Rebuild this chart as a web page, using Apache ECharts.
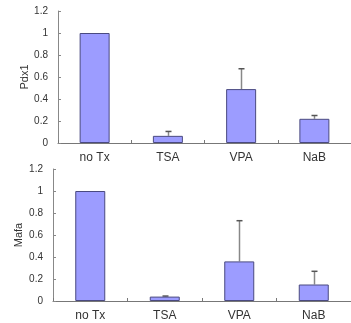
<!DOCTYPE html>
<html><head><meta charset="utf-8">
<script src="https://cdn.jsdelivr.net/npm/echarts@6/dist/echarts.min.js"></script>
<style>html,body{margin:0;padding:0;background:#fff}#c{width:351px;height:323px}</style>
</head><body><div id="c"></div>
<script>
const categories = ['no Tx', 'TSA', 'VPA', 'NaB'];
const pdx1Values = [1.0, 0.065, 0.49, 0.22];
const pdx1Errors = [0, 0.04, 0.185, 0.03];
const mafaValues = [1.0, 0.04, 0.36, 0.15];
const mafaErrors = [0, 0.005, 0.37, 0.12];
const yTicks = [0, 0.2, 0.4, 0.6, 0.8, 1, 1.2];

const font = 'Liberation Sans, Arial, sans-serif';
function yAxis(idx, name, gap) {
  return {
    type: 'value', gridIndex: idx, min: 0, max: 1.2, interval: 0.2,
    name: name, nameLocation: 'middle', nameGap: gap, nameRotate: 90,
    nameMoveOverlap: false,
    nameTextStyle: { fontFamily: font, fontSize: 11, color: '#333' },
    axisLine: { show: true, lineStyle: { color: '#888', width: 1 } },
    axisTick: { show: true, inside: true, length: 3, lineStyle: { color: '#888' } },
    axisLabel: { fontFamily: font, fontSize: 10, color: '#333', margin: 10,
      formatter: v => String(+v.toFixed(1)) },
    splitLine: { show: false }
  };
}
function xAxis(idx) {
  return {
    type: 'category', gridIndex: idx, data: categories,
    axisLine: { show: true, lineStyle: { color: '#777', width: 1 } },
    axisTick: { show: true, inside: true, length: 3, alignWithLabel: false, lineStyle: { color: '#777' } },
    axisLabel: { fontFamily: font, fontSize: 12, color: '#333', margin: 9 },
    splitLine: { show: false }
  };
}
function barSeries(idx, values) {
  return {
    type: 'bar', xAxisIndex: idx, yAxisIndex: idx, data: values, barWidth: 30,
    itemStyle: { color: '#9c9cff', borderColor: '#4a4a80', borderWidth: 1 },
    z: 2
  };
}
function errSeries(idx, values, errs) {
  return {
    type: 'custom', xAxisIndex: idx, yAxisIndex: idx, z: 1,
    data: values.map((v, i) => [i, v, v + errs[i]]),
    renderItem: function (params, api) {
      if (api.value(2) - api.value(1) <= 0) return;
      const base = api.coord([api.value(0), api.value(1)]);
      const top = api.coord([api.value(0), api.value(2)]);
      const x = Math.round(base[0]) + 0.5;
      return { type: 'group', children: [
        { type: 'line', shape: { x1: x, y1: base[1], x2: x, y2: top[1] }, style: { stroke: '#888', lineWidth: 1.5 } },
        { type: 'line', shape: { x1: x - 3, y1: top[1], x2: x + 3, y2: top[1] }, style: { stroke: '#555', lineWidth: 1.5 } }
      ]};
    }
  };
}
const chart = echarts.init(document.getElementById('c'));
chart.setOption({
  animation: false,
  grid: [
    { left: 58, top: 11, width: 294, height: 132 },
    { left: 53, top: 169, width: 299, height: 132 }
  ],
  xAxis: [xAxis(0), xAxis(1)],
  yAxis: [yAxis(0, 'Pdx1', 28), yAxis(1, 'Mafa', 29)],
  series: [barSeries(0, pdx1Values), errSeries(0, pdx1Values, pdx1Errors),
           barSeries(1, mafaValues), errSeries(1, mafaValues, mafaErrors)]
});
</script></body></html>
